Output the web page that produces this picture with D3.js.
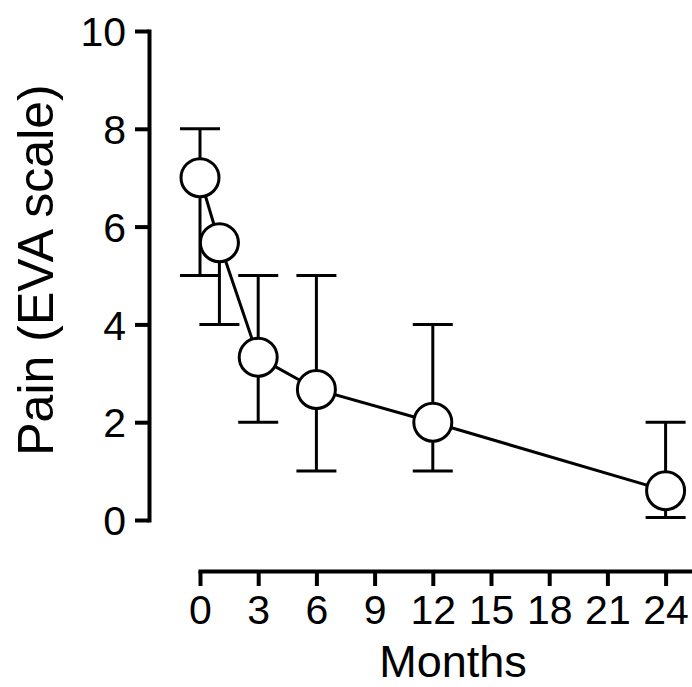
<html>
	<head>
		<title>Pain over months</title>
		<meta charset="utf-8">
		<script src="https://cdn.jsdelivr.net/npm/d3@7"></script>
		<style>
			body { margin: 0; background: #fff; }
			text { font-family: "Liberation Sans", Arial, sans-serif; fill: #000; }
		</style>
	</head>
	<body>
		<script>

			// model
			var months = [0, 1, 3, 6, 12, 24];
			var pain_mean = [7.0, 5.67, 3.33, 2.67, 2.0, 0.6];
			var pain_hi = [8, 5.67, 5, 5, 4, 2];
			var pain_lo = [5, 4, 2, 1, 1, 0.05];
			var x_ticks = [0, 3, 6, 9, 12, 15, 18, 21, 24];
			var y_ticks = [0, 2, 4, 6, 8, 10];

			// view
			var W = 692, H = 687;
			var X0 = 200, PX_PER_MONTH = 19.4;
			var Y_AXIS_X = 149, X_AXIS_Y = 571;
			var R = 19;

			var svg = d3.select("body").append("svg")
				.attr("width", W)
				.attr("height", H);

			var x = d3.scaleLinear().domain([0, 26]).range([X0, X0 + 26 * PX_PER_MONTH]);
			var y = d3.scaleLinear().domain([0, 10]).range([520, 31]);

			// y axis
			var yAxis = svg.append("g")
				.attr("transform", "translate(" + Y_AXIS_X + ",0)")
				.call(d3.axisLeft(y).tickValues(y_ticks).tickSize(14).tickPadding(9).tickSizeOuter(0));
			yAxis.select(".domain").attr("stroke-width", 4).attr("stroke-linecap", "square");
			yAxis.selectAll(".tick line").attr("stroke-width", 4);
			yAxis.selectAll(".tick text").attr("font-size", 41).attr("dy", "0.36em");

			// x axis
			var xAxis = svg.append("g")
				.attr("transform", "translate(0," + X_AXIS_Y + ")")
				.call(d3.axisBottom(x).tickValues(x_ticks).tickSize(15).tickPadding(9).tickSizeOuter(0));
			xAxis.select(".domain").attr("stroke-width", 4).attr("stroke-linecap", "square");
			xAxis.selectAll(".tick line").attr("stroke-width", 4);
			xAxis.selectAll(".tick text").attr("font-size", 41).attr("dy", "0.71em");
			svg.selectAll(".domain, .tick line").attr("stroke", "#000");

			// axis titles
			svg.append("text")
				.attr("x", 453).attr("y", 677)
				.attr("text-anchor", "middle")
				.attr("font-size", 45)
				.text("Months");

			svg.append("text")
				.attr("transform", "translate(53,270) rotate(-90)")
				.attr("text-anchor", "middle")
				.attr("font-size", 50)
				.text("Pain (EVA scale)");

			var data = months.map(function(m, i) {
				return {m: m, mean: pain_mean[i], hi: pain_hi[i], lo: pain_lo[i]};
			});

			// error bars
			var bars = svg.append("g").attr("stroke", "#000").attr("stroke-width", 3);
			data.forEach(function(d) {
				bars.append("line")
					.attr("x1", x(d.m)).attr("x2", x(d.m))
					.attr("y1", y(d.hi)).attr("y2", y(d.lo));
				[d.hi, d.lo].forEach(function(v) {
					bars.append("line")
						.attr("x1", x(d.m) - 20).attr("x2", x(d.m) + 20)
						.attr("y1", y(v)).attr("y2", y(v));
				});
			});

			// mean line
			svg.append("path")
				.datum(data)
				.attr("fill", "none")
				.attr("stroke", "#000")
				.attr("stroke-width", 3)
				.attr("d", d3.line().x(function(d) { return x(d.m); }).y(function(d) { return y(d.mean); }));

			// symbols
			svg.selectAll("circle.pt")
				.data(data)
				.enter()
				.append("circle")
				.attr("class", "pt")
				.attr("cx", function(d) { return x(d.m); })
				.attr("cy", function(d) { return y(d.mean); })
				.attr("r", R)
				.attr("fill", "#fff")
				.attr("stroke", "#000")
				.attr("stroke-width", 3);

		</script>
	</body>
</html>
